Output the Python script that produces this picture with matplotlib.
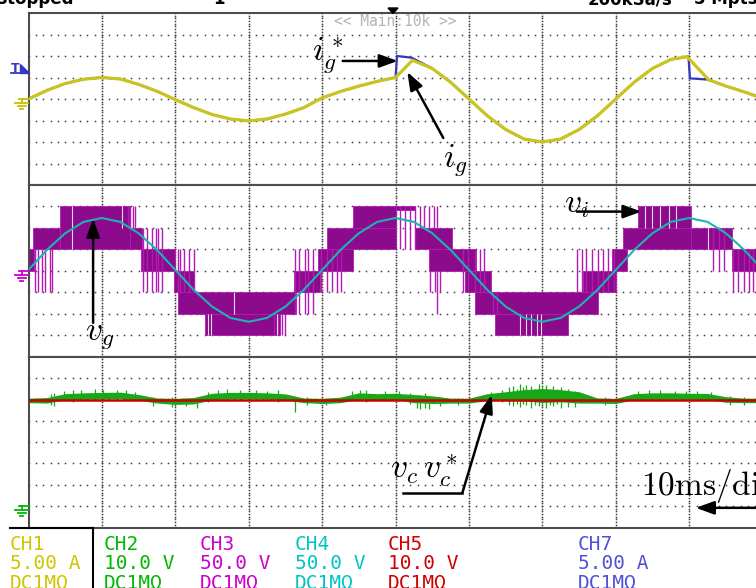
import numpy as np
import matplotlib.pyplot as plt
from matplotlib.patches import Rectangle, Polygon

plt.rcParams['mathtext.fontset'] = 'cm'

W, H = 756, 588
T_END = 9.91          # visible width of the screen in divisions
X0 = 28.5             # left edge of the graticule, px

# time base for the sampled traces (divisions)
t_q = [i * 0.25 for i in range(40)] + [T_END]

# CH1: grid current i_g (div)
ig_t = [0, 0.25, 0.5, 0.75, 1.0, 1.25, 1.5, 1.75, 2.0, 2.25, 2.5, 2.75, 3.0, 3.25,
        3.5, 3.75, 4.0, 4.25, 4.5, 4.75, 5.0, 5.23, 5.5, 5.75, 6.0, 6.25, 6.5,
        6.75, 7.0, 7.25, 7.5, 7.75, 8.0, 8.25, 8.5, 8.75, 8.97, 9.27, 9.5, 9.75, 9.91]
ig_v = [0.0, 0.40, 0.72, 0.92, 1.0, 0.93, 0.68, 0.36, -0.03, -0.40, -0.72, -0.93,
        -1.02, -0.93, -0.70, -0.40, 0.05, 0.35, 0.60, 0.82, 1.0, 1.80, 1.42, 0.78,
        0.0, -0.78, -1.42, -1.86, -2.0, -1.86, -1.42, -0.78, 0.0, 0.78, 1.42, 1.84,
        1.97, 0.88, 0.60, 0.33, 0.14]

# CH7: current reference i_g* (div)
igr_t = [0, 0.25, 0.5, 0.75, 1.0, 1.25, 1.5, 1.75, 2.0, 2.25, 2.5, 2.75, 3.0, 3.25,
         3.5, 3.75, 4.0, 4.25, 4.5, 4.75, 5.0, 5.02, 5.22, 5.5, 5.75, 6.0, 6.25,
         6.5, 6.75, 7.0, 7.25, 7.5, 7.75, 8.0, 8.25, 8.5, 8.75, 8.99, 9.01, 9.27,
         9.5, 9.75, 9.91]
igr_v = [0.0, 0.40, 0.72, 0.92, 1.0, 0.93, 0.68, 0.36, -0.03, -0.40, -0.72, -0.93,
         -1.02, -0.93, -0.70, -0.40, 0.05, 0.35, 0.60, 0.82, 1.0, 2.0, 1.92, 1.42,
         0.78, 0.0, -0.78, -1.42, -1.86, -2.0, -1.86, -1.42, -0.78, 0.0, 0.78, 1.42,
         1.84, 1.97, 0.96, 0.90, 0.60, 0.33, 0.14]

# CH4: grid voltage v_g (div)
vg_v = [0.04, 0.97, 1.75, 2.28, 2.46, 2.28, 1.75, 0.97,
        0.04, -0.89, -1.67, -2.20, -2.38, -2.20, -1.67, -0.89,
        0.04, 0.97, 1.75, 2.28, 2.46, 2.28, 1.75, 0.97,
        0.04, -0.89, -1.67, -2.20, -2.38, -2.20, -1.67, -0.89,
        0.04, 0.97, 1.75, 2.28, 2.46, 2.28, 1.75, 0.97, 0.38]

# CH3: inverter voltage v_i, switching bands (t0, t1, low, high)
vi_bands = [
    (0.00, 0.08, 0, 1), (0.06, 0.43, 1, 2), (0.43, 1.38, 1, 3), (1.38, 1.55, 1, 2),
    (1.53, 2.00, 0, 1), (1.98, 2.25, -1, 0), (2.03, 3.64, -2, -1), (2.40, 3.43, -3, -2),
    (3.62, 3.97, -1, 0), (3.94, 4.42, 0, 1), (4.06, 5.00, 1, 2), (4.42, 5.00, 2, 3),
    (5.00, 5.27, 2.85, 3), (5.27, 5.77, 1, 2), (5.45, 6.10, 0, 1), (5.95, 6.30, -1, 0),
    (6.08, 7.76, -2, -1), (6.36, 7.35, -3, -2), (7.55, 8.00, -1, 0), (7.95, 8.15, 0, 1),
    (8.10, 9.03, 1, 2), (8.30, 9.03, 2, 3), (9.03, 9.58, 1, 2), (9.58, 9.91, 0, 1),
]
# isolated switching edges (t, low, high)
vi_edges = [
    (0.09, -1, 1), (0.13, -1, 1), (0.18, -1, 1), (0.22, -1, 1), (0.29, -1, 1), (0.32, -1, 1),
    (1.35, 2, 3), (1.38, 2, 3), (1.42, 2, 3), (1.45, 2, 3),
    (1.56, -1, 2), (1.61, -1, 2), (1.68, -1, 2), (1.73, -1, 2), (1.77, -1, 2), (1.82, -1, 2),
    (2.03, -1, 1), (2.07, -1, 1), (2.12, -1, 1), (2.18, -1, 1), (2.25, -1, 1),
    (3.35, -3, -2), (3.40, -3, -2), (3.45, -3, -2), (3.50, -3, -2),
    (3.63, -2, 1), (3.69, -2, 1), (3.76, -2, 1), (3.81, -2, 1), (3.87, -2, 1),
    (3.99, -1, 1), (4.06, -1, 1), (4.13, -1, 1), (4.20, -1, 1), (4.26, -1, 1),
    (5.06, 1, 3), (5.13, 1, 3), (5.20, 1, 3), (5.26, 1, 3),
    (5.33, 2, 3), (5.39, 2, 3), (5.45, 2, 3), (5.52, 2, 3), (5.57, 2, 3),
    (5.47, -1, 0), (5.54, -1, 0), (5.56, -2, 0), (5.60, -1, 0),
    (5.92, -1, 1), (5.99, -1, 1), (6.08, -1, 1), (6.15, -1, 1), (6.21, -1, 1),
    (6.33, -2, -1), (6.38, -2, -1),
    (7.47, -1, 1), (7.54, -1, 1), (7.60, -1, 1), (7.67, -1, 1), (7.76, -1, 1),
    (7.83, -1, 1), (7.90, -1, 1), (7.97, -1, 1),
    (9.33, 0, 2), (9.40, 0, 2), (9.47, 0, 2),
    (9.60, -1, 1), (9.67, -1, 1), (9.74, -1, 1), (9.81, -1, 1), (9.87, -1, 1),
]
# short gaps inside the bands (t, low, high)
vi_gaps = [
    (0.59, 1, 3), (0.86, 1, 2), (1.28, 2, 3), (2.44, -3, -2), (2.49, -3, -2),
    (2.80, -2, -1), (3.38, -3, -2), (6.70, -3, -2), (6.78, -3, -2), (6.85, -3, -2),
    (6.92, -3, -2), (6.98, -3, -2), (8.40, 2, 3), (8.50, 2, 3), (8.60, 2, 3),
    (8.72, 2, 3), (8.82, 2, 3), (9.26, 1, 2),
]

# CH2: capacitor voltage v_c, noise envelope (div)
vc_hi = [2.05, 2.08, 2.26, 2.30, 2.32, 2.33, 2.22, 2.06, 2.04, 2.08, 2.28, 2.32, 2.32,
         2.30, 2.25, 2.06, 2.04, 2.10, 2.30, 2.26, 2.28, 2.22, 2.16, 2.05, 2.05, 2.26,
         2.35, 2.45, 2.50, 2.45, 2.35, 2.06, 2.04, 2.26, 2.30, 2.30, 2.28, 2.27, 2.12,
         2.05, 2.05]
vc_lo = [1.84, 1.82, 1.98, 2.00, 2.02, 2.04, 1.96, 1.82, 1.76, 1.78, 1.98, 2.02, 2.02,
         2.02, 1.96, 1.84, 1.80, 1.84, 2.00, 1.98, 1.98, 1.84, 1.80, 1.82, 1.82, 1.94,
         1.98, 1.92, 1.85, 1.88, 1.82, 1.82, 1.80, 1.98, 2.00, 2.00, 2.00, 1.98, 1.86,
         1.84, 1.84]
vc_spikes = [
    (0.30, 1.75, 2.25), (0.35, 1.7, 2.3), (0.48, 1.9, 2.4), (0.60, 1.85, 2.45),
    (0.72, 1.95, 2.42), (0.90, 1.9, 2.5), (1.02, 1.95, 2.45), (1.20, 1.9, 2.45),
    (1.33, 1.95, 2.42), (1.45, 1.9, 2.35), (1.70, 1.7, 2.1), (1.95, 1.65, 2.1),
    (2.15, 1.68, 2.05), (2.30, 1.6, 2.1), (2.45, 1.85, 2.35), (2.58, 1.95, 2.45),
    (2.70, 1.9, 2.5), (2.88, 1.95, 2.42), (3.10, 1.9, 2.45), (3.25, 1.95, 2.4),
    (3.40, 1.85, 2.42), (3.63, 1.4, 2.0), (3.80, 1.75, 2.1), (4.05, 1.72, 2.08),
    (4.40, 1.9, 2.38), (4.52, 1.95, 2.42), (4.60, 1.85, 2.45), (4.85, 1.9, 2.4),
    (5.05, 1.9, 2.38), (5.20, 1.8, 2.3), (5.29, 1.6, 2.2), (5.33, 1.55, 2.2),
    (5.40, 1.6, 2.3), (5.46, 1.55, 2.1), (5.60, 1.7, 2.1), (5.85, 1.75, 2.08),
    (6.30, 1.85, 2.35), (6.45, 1.85, 2.45), (6.55, 1.75, 2.55), (6.60, 1.7, 2.6),
    (6.65, 1.8, 2.5), (6.70, 1.65, 2.7), (6.74, 1.8, 2.55), (6.78, 1.75, 2.65),
    (6.85, 1.6, 2.6), (6.90, 1.75, 2.5), (6.95, 1.7, 2.7), (7.00, 1.8, 2.55),
    (7.05, 1.6, 2.65), (7.10, 1.75, 2.5), (7.15, 1.7, 2.6), (7.20, 1.8, 2.5),
    (7.25, 1.6, 2.55), (7.35, 1.65, 2.5), (7.45, 1.65, 2.4), (7.85, 1.72, 2.1),
    (8.30, 1.9, 2.38), (8.45, 1.95, 2.42), (8.60, 1.9, 2.45), (8.80, 1.95, 2.4),
    (8.95, 1.92, 2.4), (9.10, 1.9, 2.4), (9.30, 1.9, 2.35), (9.55, 1.75, 2.15),
    (9.75, 1.75, 2.1),
]
# CH5: capacitor voltage reference v_c*
vcr_t = [0, T_END]
vcr_v = [1.97, 1.97]

# channel readout
ch_names = ['CH1', 'CH2', 'CH3', 'CH4', 'CH5', 'CH7']
ch_scales = ['5.00 A', '10.0 V', '50.0 V', '50.0 V', '10.0 V', '5.00 A']
ch_x = [10, 104, 200, 295, 388, 578]
ch_colors = ['#cdc600', '#00b800', '#cc00cc', '#00c4c4', '#d00000', '#5050d8']

YELLOW = '#c9c41f'
BLUE = '#3535c8'
MAGENTA = '#8c0a8c'
MAG_EDGE = '#b21ab2'
CYAN = '#1db3b3'
GREEN = '#17a817'
RED = '#c80000'
FRAME = '#4d4d4d'

fig = plt.figure(figsize=(W / 100, H / 100), dpi=100)


def panel(top, bottom):
    ax = fig.add_axes([X0 / W, 1 - bottom / H, 1 - X0 / W, (bottom - top) / H])
    ax.set_xlim(0, T_END)
    ax.set_ylim(-4, 4)
    ax.set_xticks([])
    ax.set_yticks([])
    ax.spines['right'].set_visible(False)
    for s in ['left', 'top', 'bottom']:
        ax.spines[s].set_color(FRAME)
        ax.spines[s].set_linewidth(1.5)
    # dotted graticule
    gx = np.arange(0, T_END, 0.1)
    rows = np.arange(-3, 4)
    RX, RY = np.meshgrid(gx, rows)
    ax.plot(RX.ravel(), RY.ravel(), ls='none', marker='s', ms=1.1, mew=0,
            color='#3c3c3c', zorder=1)
    gy = np.arange(-4, 4.01, 0.125)
    CX, CY = np.meshgrid(np.arange(1, 10), gy)
    ax.plot(CX.ravel(), CY.ravel(), ls='none', marker='s', ms=1.1, mew=0,
            color='#3c3c3c', zorder=1)
    return ax


ax1 = panel(13, 185)
ax2 = panel(185, 356.5)
ax3 = panel(356.5, 527.5)

# currents
ax1.plot(igr_t, igr_v, color=BLUE, lw=1.6, zorder=3)
ax1.plot(ig_t, ig_v, color=YELLOW, lw=2.3, zorder=4)

# inverter and grid voltages
for t0, t1, lo, hi in vi_bands:
    ax2.add_patch(Rectangle((t0, lo), t1 - t0, hi - lo, facecolor=MAGENTA,
                            edgecolor=MAG_EDGE, lw=0.6, zorder=2))
ax2.vlines([e[0] for e in vi_edges], [e[1] for e in vi_edges], [e[2] for e in vi_edges],
           color=MAG_EDGE, lw=1.0, zorder=2)
ax2.vlines([g[0] for g in vi_gaps], [g[1] for g in vi_gaps], [g[2] for g in vi_gaps],
           color='white', lw=0.8, alpha=0.85, zorder=2.5)
ax2.plot(t_q, vg_v, color=CYAN, lw=1.5, zorder=4)

# capacitor voltage and its reference
ax3.fill_between(t_q, vc_lo, vc_hi, color=GREEN, lw=0, zorder=2)
ax3.vlines([s[0] for s in vc_spikes], [s[1] for s in vc_spikes], [s[2] for s in vc_spikes],
           color=GREEN, lw=0.9, zorder=2)
ax3.plot(vcr_t, vcr_v, color=RED, lw=1.8, zorder=3)

# labels
arrow = dict(arrowstyle='-|>,head_length=0.55,head_width=0.2', color='k', lw=1.8,
             mutation_scale=20, shrinkA=0, shrinkB=0)
lab = dict(fontsize=24, color='k', ha='center', va='center', zorder=6)

ax1.text(4.08, 2.05, r'$i_g^*$', **lab)
ax1.annotate('', xy=(5.03, 1.77), xytext=(4.28, 1.77), arrowprops=arrow, zorder=6)
ax1.text(5.81, -2.84, r'$i_g$', **lab)
ax1.annotate('', xy=(5.16, 1.26), xytext=(5.65, -1.81), arrowprops=arrow, zorder=6)

ax2.text(0.97, -2.99, r'$v_g$', **lab)
ax2.annotate('', xy=(0.88, 2.43), xytext=(0.88, -2.43), arrowprops=arrow, zorder=6)
ax2.text(7.47, 3.13, r'$v_i$', **lab)
ax2.annotate('', xy=(8.35, 2.76), xytext=(7.47, 2.76), arrowprops=arrow, zorder=6)

ax3.text(5.39, -1.36, r'$v_c\,v_c^*$', **lab)
ax3.plot([5.10, 5.91], [-2.38, -2.38], color='k', lw=1.8, zorder=6)
ax3.annotate('', xy=(6.31, 2.2), xytext=(5.91, -2.38), arrowprops=arrow, zorder=6)
ax3.text(8.34, -2.48, r'$\mathrm{10ms/div}$', fontsize=24, ha='left', va='baseline',
         zorder=6, clip_on=False)
ax3.annotate('', xy=(10.2, -3.08), xytext=(9.09, -3.08), annotation_clip=False,
             arrowprops=dict(arrowstyle='<|-|>,head_length=0.55,head_width=0.2',
                             color='k', lw=1.8, mutation_scale=20, shrinkA=0, shrinkB=0),
             zorder=6)

# overlay in pixel coordinates for the scope furniture
ov = fig.add_axes([0, 0, 1, 1], zorder=10)
ov.set_xlim(0, W)
ov.set_ylim(H, 0)
ov.axis('off')

# status line, mostly above the visible area
for x, s in [(-4, 'Stopped'), (213, '1'), (588, '200kSa/s'), (694, '5 Mpts')]:
    ov.text(x, 4, s, fontsize=12, fontweight='bold', va='baseline', ha='left', color='k')
ov.add_patch(Polygon([(388, 8), (398, 8), (393, 13.5)], closed=True, color='k'))
ov.text(395, 21, '<< Main:10k >>', family='DejaVu Sans Mono', fontsize=10.5,
        color='#b4b4b4', ha='center', va='center')


def level_px(ax, v):
    return H - ax.transData.transform((0, v))[1]


def ground(y0, c):
    ov.plot([19, 29], [y0, y0], color=c, lw=1.3)
    ov.plot([21.5, 21.5], [y0, y0 + 4], color=c, lw=1.3)
    ov.plot([15, 28], [y0 + 4, y0 + 4], color=c, lw=1.3)
    ov.plot([17.5, 25.5], [y0 + 7, y0 + 7], color=c, lw=1.3)
    ov.plot([20, 23], [y0 + 10, y0 + 10], color=c, lw=1.3)


ground(level_px(ax1, 0), '#c8c000')
ground(level_px(ax2, 0), '#cc00cc')
ground(level_px(ax3, -3), '#00b800')

# trigger level marker
ov.text(15.5, 72, 'T', fontsize=9, fontweight='bold', color=BLUE, ha='center', va='baseline')
ov.plot([11, 28.5], [72.5, 72.5], color=BLUE, lw=1.3)
ov.add_patch(Polygon([(20, 64), (20, 72.5), (28.5, 72.5)], closed=True, color=BLUE))

# channel readout
ov.plot([10, 93], [528, 528], color='k', lw=1.5)
ov.plot([93, 93], [528, 590], color='k', lw=1.5)
for x, name, scale, c in zip(ch_x, ch_names, ch_scales, ch_colors):
    for y, s in [(550, name), (569, scale), (589, 'DC1M\u03a9')]:
        ov.text(x, y, s, family='DejaVu Sans Mono', fontsize=14, color=c,
                va='baseline', ha='left')

fig.savefig('out.png', dpi=100)
